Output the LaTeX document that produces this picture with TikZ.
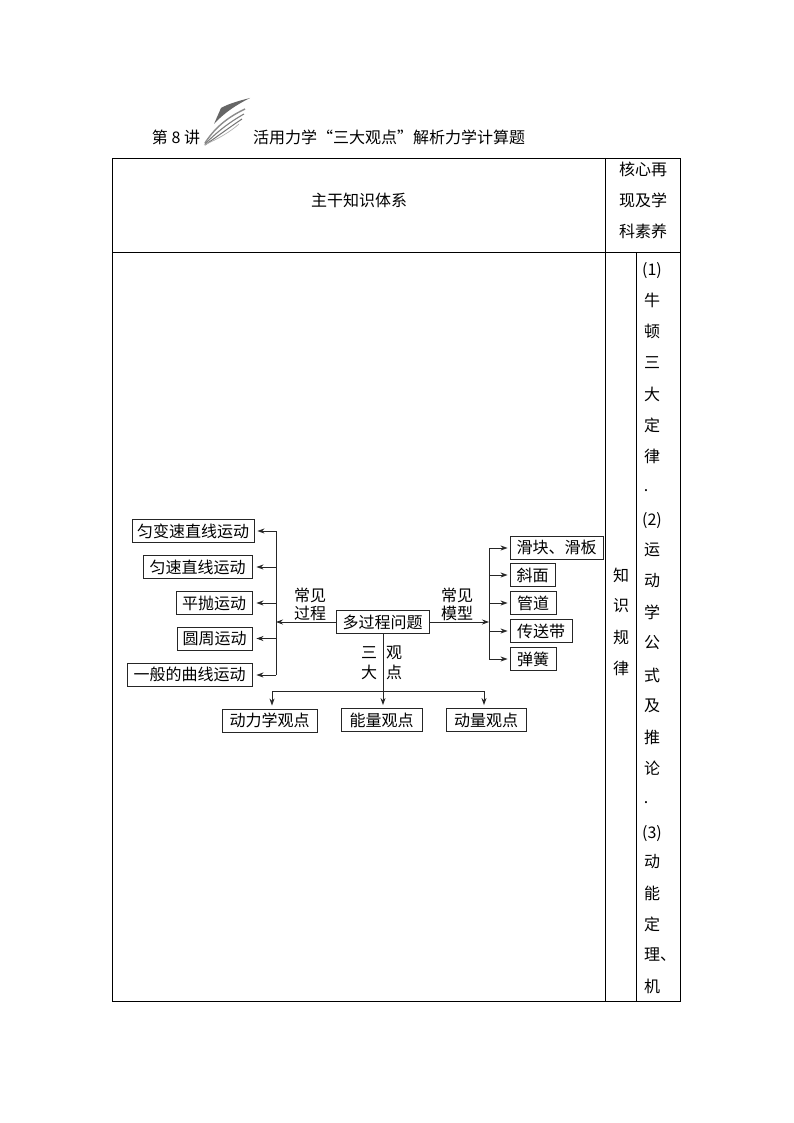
\documentclass[tikz,border=0pt]{standalone}
\usepackage{fontspec}
\setmainfont{Noto Sans CJK SC}
\usetikzlibrary{arrows.meta}

\begin{document}
\begin{tikzpicture}[x=1pt,y=-1pt,font=\fontsize{16}{16}\selectfont]
		\tikzstyle{frameline}=[draw=black,line width=0.9pt]
		\tikzstyle{boxnode}=[draw=black!85,line width=0.9pt,inner sep=0pt,minimum height=23pt]
		\tikzstyle{arrowline}=[draw=black!85,line width=0.8pt,-{Stealth[length=7pt,width=5pt]}]
		\tikzstyle{busline}=[draw=black!85,line width=0.8pt]
		\tikzstyle{cellnode}=[inner sep=0pt]
		\useasboundingbox (0,0) rectangle (794,1123);

		\fill[white] (0,0) rectangle (794,1123);

		\fill[black!60] (250,98) .. controls (238,101) and (228,104) .. (221,108) -- (214,124) .. controls (224,113) and (236,105) .. (250,98);
		\draw[black!45,line width=1.4pt] (205,143) .. controls (214,129) and (226,118) .. (245,109);
		\draw[black!50,line width=1.1pt] (205,144) .. controls (216,133) and (228,123) .. (244,114);
		\draw[black!55,line width=1pt] (205,145) .. controls (218,136) and (230,127) .. (242,119);
		\draw[black!30,line width=0.7pt] (204,145) .. controls (218,139) and (230,132) .. (239,124);

		\node[cellnode] (lecture) at (176,137) {第 8 讲};
		\node[cellnode] (title) at (389,137) {活用力学“三大观点”解析力学计算题};

		\draw[frameline] (112,158) rectangle (680,1001);
		\draw[frameline] (112,252) -- (680,252);
		\draw[frameline] (605,158) -- (605,1001);
		\draw[frameline] (636,252) -- (636,1001);

		\node[cellnode] (head) at (359,200.5) {主干知识体系};
		\node[cellnode] (core1) at (643,169.5) {核心再};
		\node[cellnode] (core2) at (643,200.5) {现及学};
		\node[cellnode] (core3) at (643,231.5) {科素养};

		\foreach \ch/\yy in {知/575,识/606,规/637,律/668}
			\node[cellnode] at (621,\yy) {\ch};

		\foreach \ch/\yy in {(1)/271,牛/300,顿/331,三/363,大/394,定/425,律/456,(2)/520.5,运/550,动/581,学/612,公/643,式/675,及/706,推/737,论/768,(3)/833.5,动/862,能/893,定/924,机/986}
			\node[cellnode] at (652,\yy) {\ch};
		\node[cellnode] (dot1) at (646,491) {.};
		\node[cellnode] (dot2) at (646,803) {.};
		\node[cellnode,anchor=west] at (644,955) {理、};

		\node[boxnode,minimum width=93pt] (multi) at (382.5,622) {多过程问题};

		\node[boxnode,minimum width=122pt] (uniacc) at (193,531) {匀变速直线运动};
		\node[boxnode,minimum width=109pt] (uniform) at (197.5,567) {匀速直线运动};
		\node[boxnode,minimum width=76pt] (project) at (214,603) {平抛运动};
		\node[boxnode,minimum width=75pt] (circle) at (214.5,638.5) {圆周运动};
		\node[boxnode,minimum width=125pt] (curve) at (189.5,674.5) {一般的曲线运动};

		\node[boxnode,minimum width=93pt] (slider) at (556.5,547.5) {滑块、滑板};
		\node[boxnode,minimum width=45pt] (slope) at (532.5,575) {斜面};
		\node[boxnode,minimum width=46pt] (pipe) at (533,603) {管道};
		\node[boxnode,minimum width=62pt] (belt) at (541,631) {传送带};
		\node[boxnode,minimum width=46pt] (spring) at (533,659) {弹簧};

		\node[boxnode,minimum width=95pt] (dynamics) at (269.5,720.5) {动力学观点};
		\node[boxnode,minimum width=81pt] (energy) at (381.5,720) {能量观点};
		\node[boxnode,minimum width=80pt] (momentum) at (486,720) {动量观点};

		\node[cellnode,align=center,font=\fontsize{16}{18}\selectfont] (process) at (310,604) {常见\\过程};
		\node[cellnode,align=center,font=\fontsize{16}{18}\selectfont] (model) at (457,604) {常见\\模型};
		\node[cellnode,align=center,font=\fontsize{16}{20}\selectfont] (three) at (369,663) {三\\大};
		\node[cellnode,align=center,font=\fontsize{16}{20}\selectfont] (view) at (394,663) {观\\点};

		\coordinate (ltop) at (276,531);
		\coordinate (lbot) at (276,675);
		\coordinate (lmid) at (276,622);
		\coordinate (rtop) at (489,548);
		\coordinate (rbot) at (489,659);
		\coordinate (rmid) at (489,622);
		\coordinate (dleft) at (272,691);
		\coordinate (dmid) at (383,691);
		\coordinate (dright) at (484,691);

		\draw[arrowline] (multi.west) -- (lmid);
		\draw[busline] (ltop) -- (lbot);
		\draw[arrowline,shorten >=3pt] (ltop) -- (uniacc.east);
		\draw[arrowline,shorten >=4pt] (ltop |- uniform.east) -- (uniform.east);
		\draw[arrowline,shorten >=4pt] (ltop |- project.east) -- (project.east);
		\draw[arrowline,shorten >=4pt] (ltop |- circle.east) -- (circle.east);
		\draw[arrowline,shorten >=4pt] (lbot) -- (curve.east |- lbot);

		\draw[arrowline] (multi.east) -- (rmid);
		\draw[busline] (rtop) -- (rbot);
		\draw[arrowline,shorten >=2pt] (rtop) -- (slider.west |- rtop);
		\draw[arrowline,shorten >=2pt] (rtop |- slope.west) -- (slope.west);
		\draw[arrowline,shorten >=2pt] (rtop |- pipe.west) -- (pipe.west);
		\draw[arrowline,shorten >=2pt] (rtop |- belt.west) -- (belt.west);
		\draw[arrowline,shorten >=2pt] (rbot) -- (spring.west);

		\draw[arrowline,shorten >=3pt] (multi.south -| dmid) -- (dmid |- energy.north);
		\draw[busline] (dleft) -- (dright);
		\draw[arrowline,shorten >=3pt] (dleft) -- (dleft |- dynamics.north);
		\draw[arrowline,shorten >=3pt] (dright) -- (dright |- momentum.north);
	\end{tikzpicture}
\end{document}
